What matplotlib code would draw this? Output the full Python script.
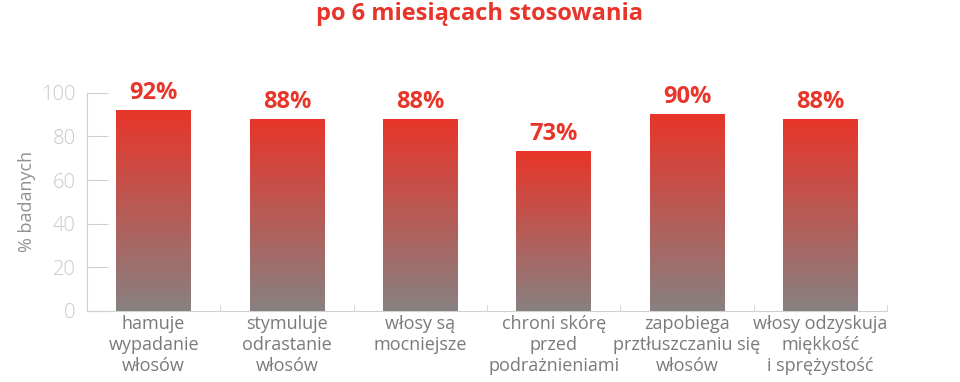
import matplotlib.pyplot as plt
import numpy as np
from matplotlib.colors import LinearSegmentedColormap

plt.rcParams['font.family'] = ['Open Sans', 'DejaVu Sans']

categories = ['hamuje\nwypadanie\nwłosów', 'stymuluje\nodrastanie\nwłosów', 'włosy są\nmocniejsze',
              'chroni skórę\nprzed\npodrażnieniami', 'zapobiega\nprztłuszczaniu się\nwłosów',
              'włosy odzyskuja\nmiękkość\ni sprężystość']
values = [92, 88, 88, 73, 90, 88]
yticks = [0, 20, 40, 60, 80, 100]

red = '#e8352a'
grad = LinearSegmentedColormap.from_list('g', ['#878181', red])

fig = plt.figure(figsize=(9.6, 3.82), dpi=100)
ax = fig.add_axes([0.0906, 0.186, 0.8334, 0.571])

x = np.arange(len(values))
bars = ax.bar(x, values, width=0.56, color='none', edgecolor='none')
g = np.linspace(0, 1, 256).reshape(-1, 1)
for b, v in zip(bars, values):
    ax.imshow(g, cmap=grad, origin='lower', aspect='auto',
              extent=[b.get_x(), b.get_x() + b.get_width(), 0, b.get_height()], zorder=2)
    ax.text(b.get_x() + b.get_width() / 2, v + 2.5, f'{v}%', ha='center', va='bottom',
            color=red, fontsize=17, fontweight='bold', clip_on=False)

ax.set_xlim(-0.5, len(values) - 0.5)
ax.set_ylim(0, 100)
ax.set_yticks(yticks)
ax.tick_params(axis='y', direction='in', length=15, color='#d0d0d0', labelcolor='#c8c8c8',
               labelsize=14.5, pad=8)
for t in ax.get_yticklabels():
    t.set_fontweight('light')
ax.set_xticks(x)
ax.set_xticklabels(categories, color='#7a7a7a', fontsize=13, linespacing=1.22)
ax.tick_params(axis='x', length=0, pad=3)
ax.set_xticks(np.arange(len(values) + 1) - 0.5, minor=True)
ax.tick_params(axis='x', which='minor', direction='in', length=4, color='#d0d0d0')
for s in ['top', 'right']:
    ax.spines[s].set_visible(False)
ax.spines['left'].set_color('#d0d0d0')
ax.spines['bottom'].set_color('#d0d0d0')
ax.set_ylabel('% badanych', color='#909090', fontsize=13, labelpad=4)

fig.text(0.5, 0.963, 'po 6 miesiącach stosowania', ha='center', va='center',
         color=red, fontsize=17, fontweight='bold')

fig.savefig('out.png', dpi=100)
